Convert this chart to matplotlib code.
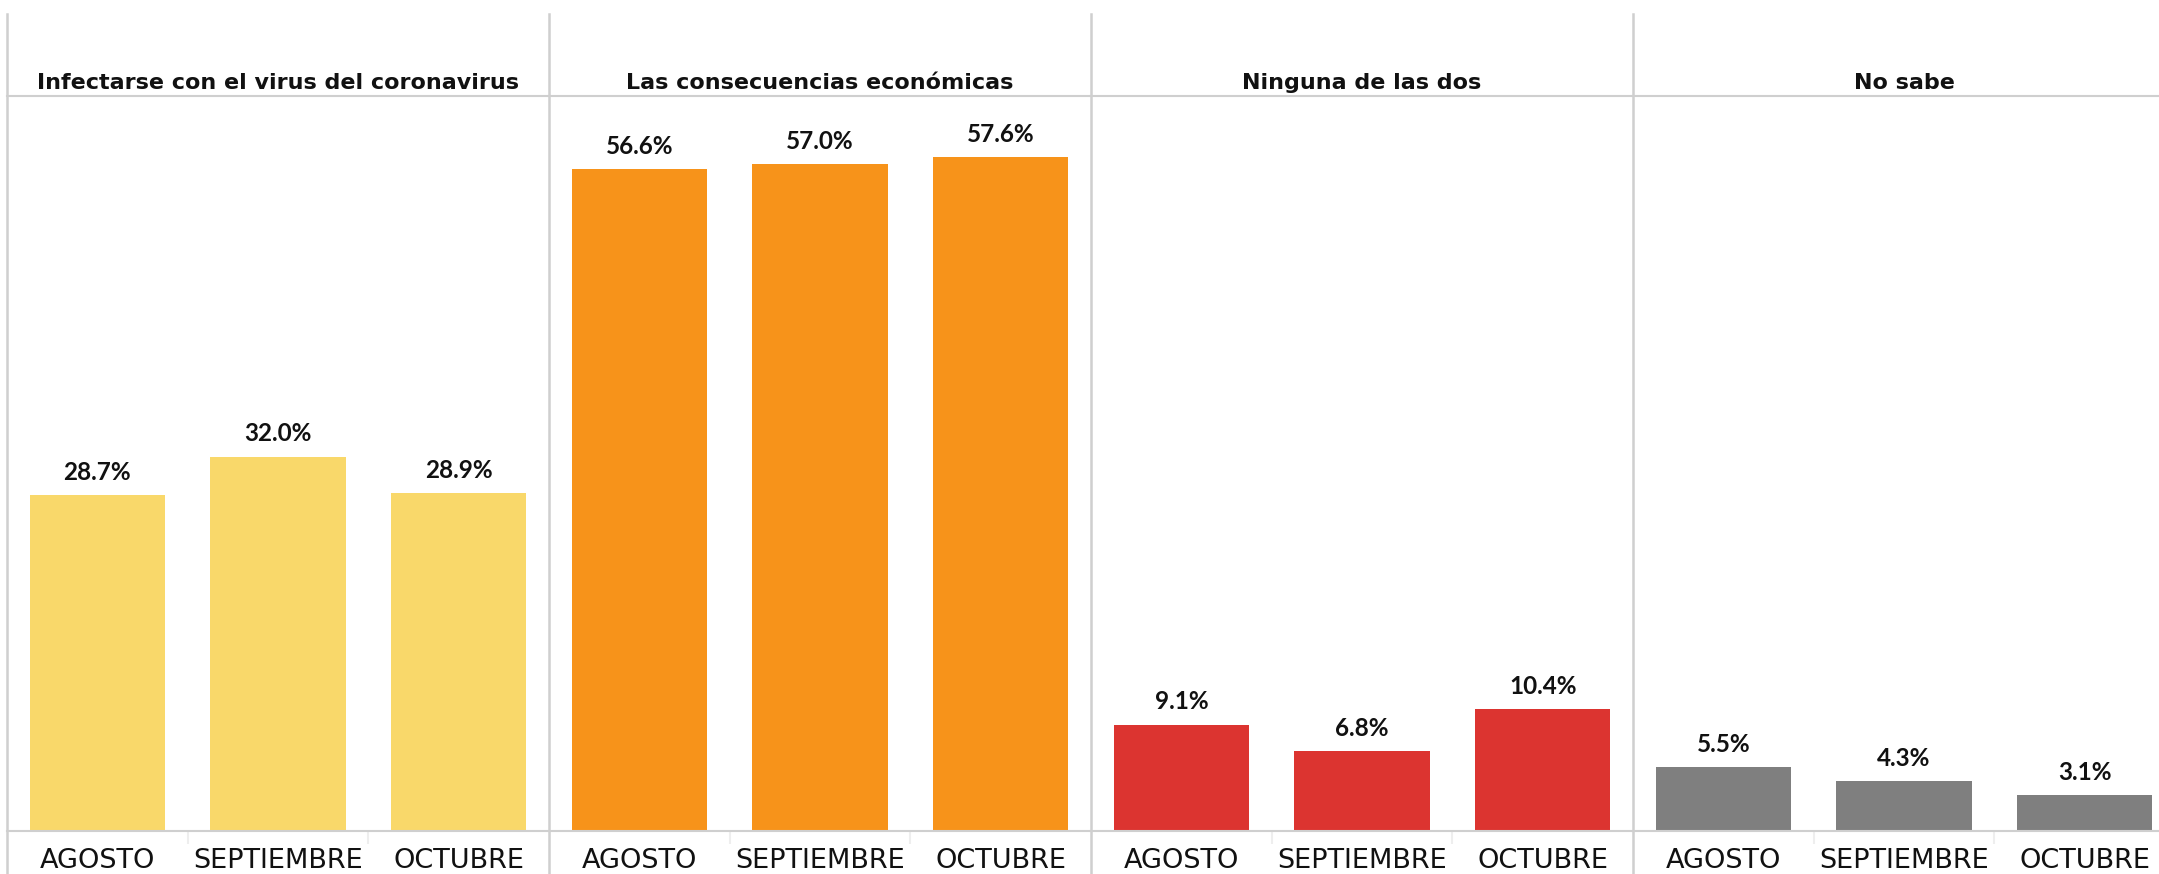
import numpy as np
import matplotlib
matplotlib.use("Agg")
import matplotlib.pyplot as plt
from matplotlib.lines import Line2D

# Data
MONTHS = ["AGOSTO", "SEPTIEMBRE", "OCTUBRE"]
TITLES = ["Infectarse con el virus del coronavirus", "Las consecuencias económicas",
          "Ninguna de las dos", "No sabe"]
INFECTARSE = [28.7, 32.0, 28.9]
ECONOMICAS = [56.6, 57.0, 57.6]
NINGUNA = [9.1, 6.8, 10.4]
NO_SABE = [5.5, 4.3, 3.1]
SERIES = [INFECTARSE, ECONOMICAS, NINGUNA, NO_SABE]
COLORS = ["#F9D86A", "#F7931A", "#DC3430", "#7F7F7F"]

# Layout (pixels in the 2159x874 canvas)
W, H = 2159, 874
PANEL_W = 542
X0 = 7
Y_AXIS = 831      # baseline of bars
Y_HEAD = 96       # header line
Y_TOP = 14        # top of separators
PX_PER_PCT = 11.70
C_LINE = "#cfcfcf"

fig = plt.figure(figsize=(W / 100, H / 100), dpi=100)

ymax = (Y_AXIS - Y_HEAD) / PX_PER_PCT
x = np.arange(len(MONTHS))
for i, (title, vals, col) in enumerate(zip(TITLES, SERIES, COLORS)):
    left = X0 + i * PANEL_W
    ax = fig.add_axes([left / W, (H - Y_AXIS) / H, PANEL_W / W, (Y_AXIS - Y_HEAD) / H])
    bars = ax.bar(x, vals, width=0.75, color=col)
    ax.bar_label(bars, labels=[f"{v:.1f}%" for v in vals], padding=8,
                 fontsize=17.5, fontweight="bold", color="#111111",
                 family=["Lato", "DejaVu Sans"])
    ax.set_xlim(-0.5, 2.5)
    ax.set_ylim(0, ymax)
    ax.set_yticks([])
    ax.set_xticks(x)
    ax.set_xticklabels(MONTHS, fontsize=19.5, color="#111111", family="DejaVu Sans")
    ax.set_xticks([0.5, 1.5], minor=True)
    ax.tick_params(axis="x", which="major", length=0, pad=12)
    ax.tick_params(axis="x", which="minor", length=9, color="#eeeeee", width=1.5)
    for s in ("left", "right"):
        ax.spines[s].set_visible(False)
    ax.spines["bottom"].set_color(C_LINE)
    ax.spines["bottom"].set_linewidth(1.5)
    ax.spines["top"].set_color(C_LINE)
    ax.spines["top"].set_linewidth(1.5)
    ax.set_title(title, fontsize=16, fontweight="bold", pad=5, color="#111111",
                 family="DejaVu Sans")
    # panel separator running full height
    fig.add_artist(Line2D([left / W, left / W], [0, (H - Y_TOP) / H],
                          color=C_LINE, lw=1.8, transform=fig.transFigure))

fig.savefig("out.png", dpi=100)
